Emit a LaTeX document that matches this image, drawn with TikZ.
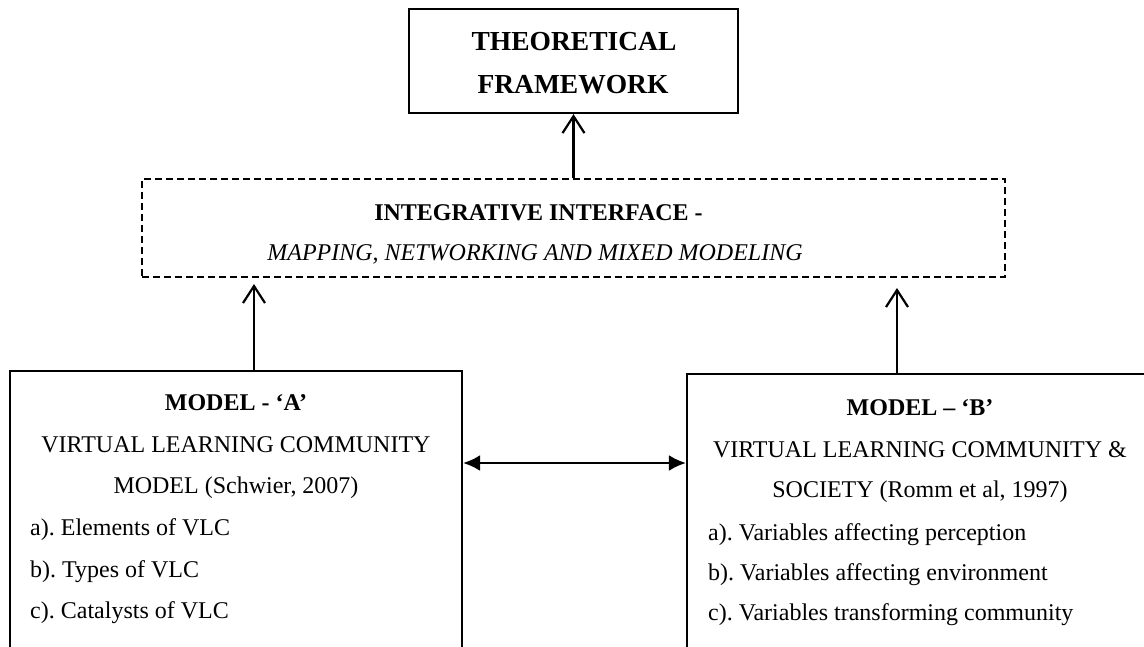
\documentclass[tikz,border=0pt]{standalone}
\usepackage{fontspec}
\setmainfont{Liberation Serif}
\usetikzlibrary{arrows.meta}
\tikzset{
  box/.style={draw=black, line width=2.2pt, rectangle, inner sep=0pt},
  dashbox/.style={draw=black, line width=2pt, dash pattern=on 7pt off 4pt, rectangle, inner sep=0pt},
  conn/.style={line width=2.4pt, -{Straight Barb[length=17pt,width=22pt,line width=2.2pt]}},
  biconn/.style={line width=2.4pt, {Latex[length=17pt,width=16pt]}-{Latex[length=17pt,width=16pt]}},
  bigtitle/.style={font=\fontsize{27.5}{30}\selectfont\bfseries, anchor=base, inner sep=0pt},
  title/.style={font=\fontsize{24}{26}\selectfont\bfseries, anchor=base, inner sep=0pt},
  ititle/.style={font=\fontsize{24}{26}\selectfont\itshape, anchor=base, inner sep=0pt},
  body/.style={font=\fontsize{24}{26}\selectfont\frenchspacing, anchor=base, inner sep=0pt},
  item/.style={font=\fontsize{24}{26}\selectfont\frenchspacing, anchor=base west, inner sep=0pt},
}
\begin{document}
\begin{tikzpicture}[x=1pt, y=-1pt]
\useasboundingbox (0,0) rectangle (1144,646);
\clip (0,0) rectangle (1144,646);
\fill[white] (0,0) rectangle (1144,646);

% boxes
\node[box, minimum width=329pt, minimum height=104pt] (top) at (573.5,61) {};
\node[dashbox, minimum width=863pt, minimum height=98pt] (mid) at (573.5,228) {};
\node[box, minimum width=452pt, minimum height=320pt] (A) at (236,531) {};
\node[box, minimum width=470pt, minimum height=320pt] (B) at (922,534) {};

% top text
\node[bigtitle] (t1) at (574,50) {THEORETICAL};
\node[bigtitle] (t2) at (573,93) {FRAMEWORK};

% middle text
\node[title] (m1) at (538.5,220) {INTEGRATIVE INTERFACE -};
\node[ititle] (m2) at (535,260) {MAPPING, NETWORKING AND MIXED MODELING};

% box A text
\node[title] (a0) at (236,410) {MODEL - ‘A’};
\node[body] (a1) at (236,452) {VIRTUAL LEARNING COMMUNITY};
\node[body] (a2) at (236,493) {MODEL (Schwier, 2007)};
\node[item] (a3) at (30,535) {a). Elements of VLC};
\node[item] (a4) at (30,577) {b). Types of VLC};
\node[item] (a5) at (30,618) {c). Catalysts of VLC};

% box B text
\node[title] (b0) at (920,415) {MODEL – ‘B’};
\node[body] (b1) at (920,457) {VIRTUAL LEARNING COMMUNITY \&};
\node[body] (b2) at (920,497) {SOCIETY (Romm et al, 1997)};
\node[item] (b3) at (708,540) {a). Variables affecting perception};
\node[item] (b4) at (708,580) {b). Variables affecting environment};
\node[item] (b5) at (708,620) {c). Variables transforming community};

% connectors
\coordinate (ua) at (254,284);
\coordinate (ub) at (897,288);
\coordinate (hm) at (575,463);
\draw[conn] (mid.north) -- (top.south);
\draw[conn] (A.north -| ua) -- (ua);
\draw[conn] (B.north -| ub) -- (ub);
\draw[biconn] (A.east |- hm) -- (B.west |- hm);
\end{tikzpicture}
\end{document}
